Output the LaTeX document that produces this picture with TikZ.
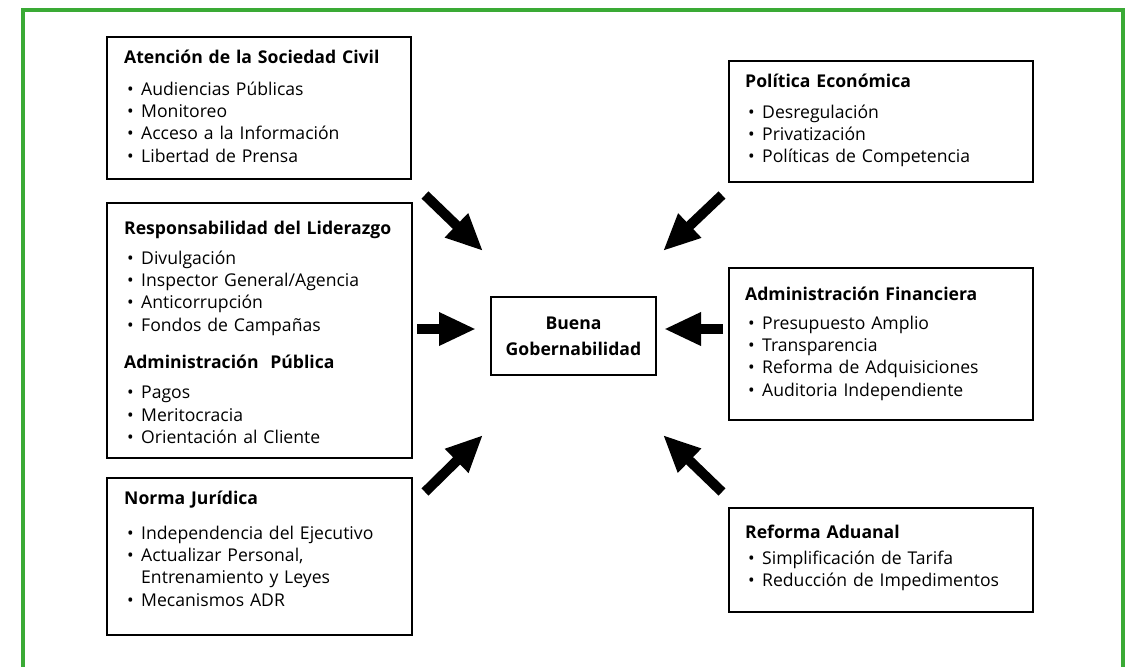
\documentclass[tikz,border=0pt]{standalone}
\usepackage{fontspec}
\setmainfont{Open Sans}
\usepackage{tikz}
\usetikzlibrary{arrows.meta}

\definecolor{frameGreen}{RGB}{58,170,53}
\newcommand{\itm}[1]{\hspace*{3pt}\makebox[14pt][l]{\textbullet}#1}
\newcommand{\itmcont}[1]{\hspace*{17pt}#1}

\begin{document}
\begin{tikzpicture}[x=1pt,y=-1pt,
  panel/.style={draw,line width=2pt,inner sep=0pt},
  paneltext/.style={anchor=base west,inner sep=0pt,text width=285pt,align=left,
    font=\fontsize{17.6}{22.3}\selectfont},
  hub/.style={draw,line width=2.5pt,minimum width=165pt,minimum height=78pt,
    align=center,font=\fontsize{17.6}{26}\selectfont\bfseries},
  blockarrow/.style={line width=10pt,-{Triangle[length=37pt,width=31pt]}}]
\def\cFrame{frameGreen}
\useasboundingbox (0,0) rectangle (1128,667);

% green frame, open at the bottom
\draw[\cFrame, line width=4pt] (23,667) -- (23,10) -- (1123,10) -- (1123,667);

% centre
\node[hub] (buena) at (573.5,336) {Buena\\Gobernabilidad};

% left column
\node[panel, minimum width=304pt, minimum height=142pt] (atencion) at (259,108) {};
\node[paneltext] (atencionT) at ([shift={(18,27)}]atencion.north west)
  {\textbf{Atención de la Sociedad Civil}\\[10pt]
   \itm{Audiencias Públicas}\\
   \itm{Monitoreo}\\
   \itm{Acceso a la Información}\\
   \itm{Libertad de Prensa}};

\node[panel, minimum width=305pt, minimum height=255pt] (liderazgo) at (259.5,330.5) {};
\node[paneltext] (liderazgoT) at ([shift={(18,32)}]liderazgo.north west)
  {\textbf{Responsabilidad del Liderazgo}\\[8pt]
   \itm{Divulgación}\\
   \itm{Inspector General/Agencia}\\
   \itm{Anticorrupción}\\
   \itm{Fondos de Campañas}\\[15pt]
   \textbf{Administración\ \ Pública}\\[8pt]
   \itm{Pagos}\\
   \itm{Meritocracia}\\
   \itm{Orientación al Cliente}};

\node[panel, minimum width=305pt, minimum height=157pt] (norma) at (259.5,556.5) {};
\node[paneltext] (normaT) at ([shift={(18,27)}]norma.north west)
  {\textbf{Norma Jurídica}\\[13pt]
   \itm{Independencia del Ejecutivo}\\
   \itm{Actualizar Personal,}\\
   \itmcont{Entrenamiento y Leyes}\\
   \itm{Mecanismos ADR}};

% right column
\node[panel, minimum width=304pt, minimum height=121pt] (politica) at (881,121.5) {};
\node[paneltext] (politicaT) at ([shift={(17,27)}]politica.north west)
  {\textbf{Política Económica}\\[9pt]
   \itm{Desregulación}\\
   \itm{Privatización}\\
   \itm{Políticas de Competencia}};

\node[panel, minimum width=304pt, minimum height=152pt] (financiera) at (881,344) {};
\node[paneltext] (financieraT) at ([shift={(17,33)}]financiera.north west)
  {\textbf{Administración Financiera}\\[7pt]
   \itm{Presupuesto Amplio}\\
   \itm{Transparencia}\\
   \itm{Reforma de Adquisiciones}\\
   \itm{Auditoria Independiente}};

\node[panel, minimum width=304pt, minimum height=104pt] (aduanal) at (881,560) {};
\node[paneltext] (aduanalT) at ([shift={(17,31)}]aduanal.north west)
  {\textbf{Reforma Aduanal}\\[4pt]
   \itm{Simplificación de Tarifa}\\
   \itm{Reducción de Impedimentos}};

% arrows into the centre
\coordinate (tlA) at (425,195); \coordinate (tlB) at (483,251);
\coordinate (trA) at (722,195); \coordinate (trB) at (663,251);
\coordinate (lA)  at (417,329); \coordinate (lB)  at (476,329);
\coordinate (rA)  at (723,329); \coordinate (rB)  at (664,329);
\coordinate (blA) at (425,492); \coordinate (blB) at (483,435);
\coordinate (brA) at (722,492); \coordinate (brB) at (663,435);
\foreach \a in {tl,tr,l,r,bl,br}
  \draw[blockarrow] (\a A) -- (\a B);
\end{tikzpicture}
\end{document}
